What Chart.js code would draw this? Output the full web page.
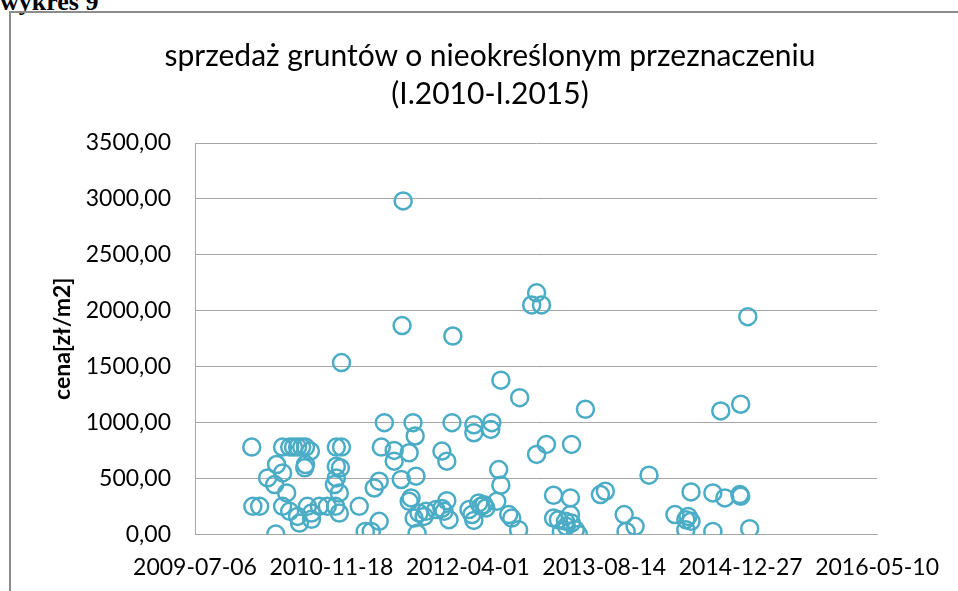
<!DOCTYPE html>
<html>
<head>
<meta charset="utf-8">
<script src="https://cdn.jsdelivr.net/npm/chart.js@4"></script>
<style>
  html, body { margin: 0; padding: 0; background: #fff; }
  body { width: 958px; height: 591px; position: relative; overflow: hidden; }
  #naglowek { position: absolute; left: 0; top: -13px; font: bold 26px "Liberation Serif", serif; color: #000; }
  #ramka { position: absolute; left: 9px; top: 11px; width: 980px; height: 620px; border-left: 2px solid #8c8c8c; border-top: 2px solid #8c8c8c; }
  #wykres { position: absolute; left: 0; top: 0; }
  #tytul { position: absolute; left: 90px; width: 800px; top: 35px; text-align: center;
           font: 30px Lato, sans-serif; line-height: 38px; color: #000; white-space: nowrap; }
</style>
</head>
<body>
<div id="naglowek">wykres 9</div>
<div id="ramka"></div>
<canvas id="wykres" width="958" height="600"></canvas>
<div id="tytul"></div>
<script>
// daty transakcji jako numery seryjne Excela (40000 = 2009-07-06)
const daty = [
  40208, 40212, 40237, 40266, 40296, 40299, 40292, 40321, 40321, 40336,
  40321, 40347, 40361, 40376, 40391, 40405, 40423, 40405, 40402, 40347,
  40376, 40383, 40412, 40427, 40427, 40456, 40485, 40515, 40529, 40518,
  40537, 40518, 40533, 40518, 40511, 40529, 40537, 40602, 40624, 40646,
  40675, 40657, 40675, 40694, 40683, 40730, 40730, 40756, 40763, 40759,
  40785, 40792, 40799, 40807, 40785, 40810, 40814, 40803, 40821, 40840,
  40847, 40883, 40913, 40923, 40931, 40942, 40905, 40923, 40945, 40905,
  41004, 41015, 41022, 41022, 41022, 41040, 41048, 41066, 41088, 41084,
  41121, 41190, 41113, 41121, 41106, 41059, 41150, 41161, 41186, 41252,
  41234, 41270, 41252, 41288, 41380, 41431, 41314, 41376, 41314, 41332,
  41358, 41376, 41380, 41343, 41394, 41405, 41361, 41486, 41504, 41664,
  41573, 41580, 41613, 41759, 41799, 41818, 41807, 41799, 41818, 41898,
  41942, 42000, 41997, 41898, 42033, 41927, 42000, 42026
];
// ceny [zł/m2]
const ceny = [
  781, 251, 251, 505, 3, 625, 446, 550, 781, 371,
  251, 781, 781, 781, 781, 781, 745, 625, 595, 206,
  161, 101, 251, 191, 135, 251, 251, 251, 191, 781,
  781, 610, 595, 505, 446, 371, 1537, 251, 27, 27,
  117, 415, 476, 999, 781, 751, 655, 491, 2982, 1867,
  296, 326, 999, 880, 730, 521, 10, 146, 191, 161,
  206, 222, 206, 302, 132, 999, 745, 655, 1774, 232,
  222, 177, 125, 980, 909, 281, 251, 236, 999, 939,
  1379, 1223, 580, 440, 296, 266, 177, 146, 42, 2160,
  2052, 2052, 715, 805, 805, 1119, 350, 326, 146, 132,
  117, 177, 101, 27, 42, 0, 72, 356, 386, 530,
  177, 27, 72, 177, 132, 117, 161, 42, 380, 371,
  326, 341, 356, 27, 51, 1104, 1164, 1947
];
const tytul = ['sprzedaż gruntów o nieokreślonym przeznaczeniu', '(I.2010-I.2015)'];
const tytulOsiY = 'cena[zł/m2]';

document.getElementById('tytul').innerHTML = tytul.join('<br>');

const punkty = daty.map((d, i) => ({ x: d, y: ceny[i] }));

// numer seryjny Excela -> rrrr-mm-dd
function dataZSerii(s) {
  const d = new Date(Date.UTC(1899, 11, 30) + s * 86400000);
  return d.toISOString().slice(0, 10);
}

const czcionka = "Lato, 'Open Sans', sans-serif";
const szary = '#a6a6a6';

new Chart(document.getElementById('wykres'), {
  type: 'scatter',
  data: {
    datasets: [{
      data: punkty,
      pointStyle: 'circle',
      pointRadius: 8.5,
      pointHoverRadius: 8.5,
      borderWidth: 2.5,
      borderColor: '#4bacc6',
      backgroundColor: 'rgba(0,0,0,0)'
    }]
  },
  options: {
    responsive: false,
    animation: false,
    events: [],
    layout: { padding: { left: 49, right: 78, top: 143, bottom: 0 } },
    plugins: {
      legend: { display: false },
      tooltip: { enabled: false }
    },
    scales: {
      x: {
        type: 'linear',
        min: 40000,
        max: 42500,
        grid: { display: false, drawTicks: false },
        border: { display: true, color: szary, width: 1 },
        ticks: {
          stepSize: 500,
          autoSkip: false,
          maxRotation: 0,
          padding: 19,
          color: '#000',
          font: { family: czcionka, size: 23 },
          callback: v => dataZSerii(v)
        }
      },
      y: {
        min: 0,
        max: 3500,
        afterFit: s => { s.width = 146; },
        grid: { color: szary, lineWidth: 1, drawTicks: false },
        border: { display: true, color: szary, width: 1 },
        title: {
          display: true,
          text: tytulOsiY,
          color: '#000',
          font: { family: czcionka, size: 23, weight: 'bold' },
          padding: { top: 0, bottom: 0 }
        },
        ticks: {
          stepSize: 500,
          padding: 24,
          color: '#000',
          font: { family: czcionka, size: 23 },
          callback: v => v.toFixed(2).replace('.', ',')
        }
      }
    }
  }
});
</script>
</body>
</html>
